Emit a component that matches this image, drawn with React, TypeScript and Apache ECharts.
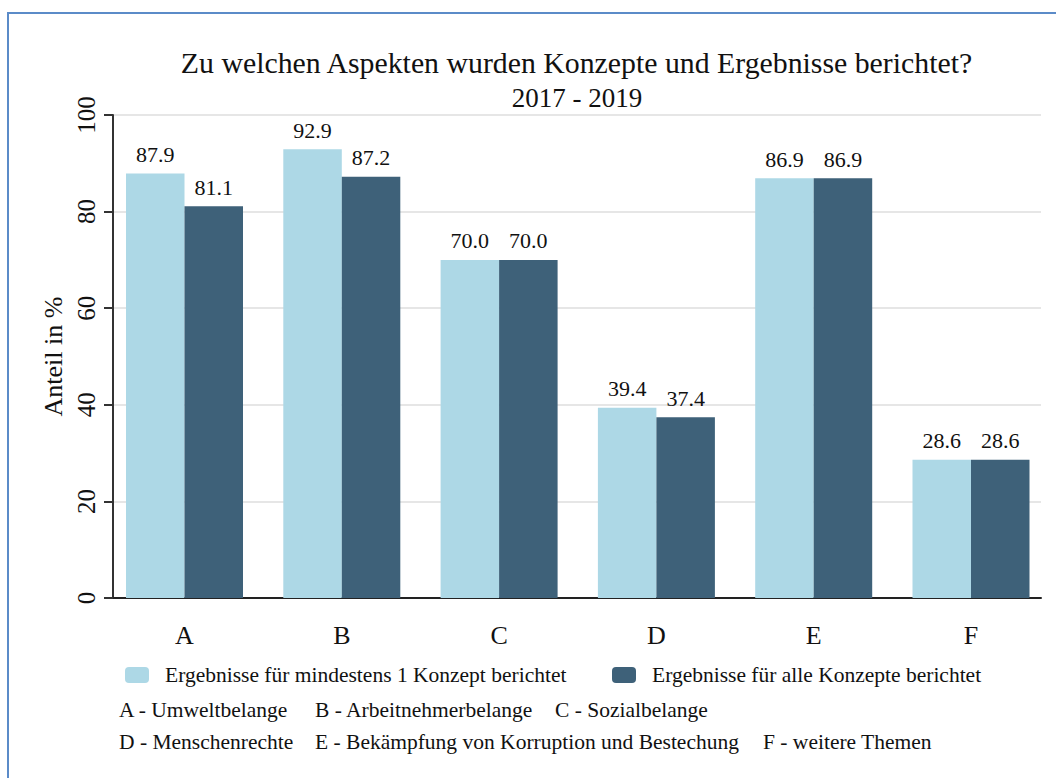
import React, { useEffect, useRef } from "react";
import * as echarts from "echarts";

const categories = ["A", "B", "C", "D", "E", "F"];
const seriesNames = [
  "Ergebnisse für mindestens 1 Konzept berichtet",
  "Ergebnisse für alle Konzepte berichtet",
];
const minOneConcept = [87.9, 92.9, 70.0, 39.4, 86.9, 28.6];
const allConcepts = [81.1, 87.2, 70.0, 37.4, 86.9, 28.6];
const yTicks = { min: 0, max: 100, interval: 20 };
const titleText = "Zu welchen Aspekten wurden Konzepte und Ergebnisse berichtet?";
const subtitleText = "2017 - 2019";
const yAxisTitle = "Anteil in %";
const notesLine1 = ["A - Umweltbelange", "B - Arbeitnehmerbelange", "C - Sozialbelange"];
const notesLine2 = [
  "D - Menschenrechte",
  "E - Bekämpfung von Korruption und Bestechung",
  "F - weitere Themen",
];

const FONT = "Liberation Serif";
const LIGHT = "#add8e6";
const DARK = "#3e6179";

export default function App() {
  const ref = useRef<HTMLDivElement>(null);
  useEffect(() => {
    if (!ref.current) return;
    const chart = echarts.init(ref.current, null, { renderer: "svg" });
    const plotTop = 115;
    const plotBottom = 778 - 598;
    const labelStyle = {
      show: true,
      position: "top",
      distance: 8,
      fontFamily: FONT,
      fontSize: 22,
      color: "#111",
      formatter: (p: any) => Number(p.value).toFixed(1),
    };
    const noteX = [119, 315, 555];
    const noteX2 = [119, 315, 763];
    const noteText = (t: string, x: number, y: number) => ({
      type: "text",
      x,
      y,
      style: {
        text: t,
        fontFamily: FONT,
        fontSize: 21.5,
        fill: "#111",
        textVerticalAlign: "middle",
      },
    });
    chart.setOption({
      animation: false,
      backgroundColor: "#fff",
      textStyle: { fontFamily: FONT },
      grid: [
        { left: 113, right: 15, top: plotTop, bottom: plotBottom },
        { left: 105.85, width: 943.8, top: plotTop, bottom: plotBottom },
      ],
      xAxis: [
        {
          gridIndex: 0,
          type: "value",
          min: 0,
          max: 1,
          axisLabel: { show: false },
          axisTick: { show: false },
          splitLine: { show: false },
          axisLine: { show: true, onZero: false, lineStyle: { color: "#222", width: 2 } },
        },
        {
          gridIndex: 1,
          type: "category",
          data: categories,
          axisLine: { show: false },
          axisTick: { show: false },
          axisLabel: { fontFamily: FONT, fontSize: 26, color: "#111", margin: 24 },
        },
      ],
      yAxis: [
        {
          gridIndex: 0,
          type: "value",
          min: yTicks.min,
          max: yTicks.max,
          interval: yTicks.interval,
          name: yAxisTitle,
          nameLocation: "middle",
          nameGap: 46,
          nameTextStyle: { fontFamily: FONT, fontSize: 26, color: "#111" },
          axisLine: { show: true, lineStyle: { color: "#333", width: 2 } },
          axisTick: { show: true, length: 9, lineStyle: { color: "#333", width: 2 } },
          axisLabel: {
            rotate: 90,
            fontFamily: FONT,
            fontSize: 25,
            color: "#111",
            margin: 14,
          },
          splitLine: { show: true, lineStyle: { color: "#e6e6e6", width: 2 } },
        },
        {
          gridIndex: 1,
          type: "value",
          min: yTicks.min,
          max: yTicks.max,
          interval: yTicks.interval,
          axisLine: { show: false },
          axisTick: { show: false },
          axisLabel: { show: false },
          splitLine: { show: false },
        },
      ],
      legend: [
        {
          data: [seriesNames[0]],
          left: 125,
          top: 664,
          itemWidth: 24,
          itemHeight: 16,
          padding: 0,
          textStyle: { fontFamily: FONT, fontSize: 21.5, color: "#111", padding: [0, 0, 0, 11] },
        },
        {
          data: [seriesNames[1]],
          left: 612,
          top: 664,
          itemWidth: 24,
          itemHeight: 16,
          padding: 0,
          textStyle: { fontFamily: FONT, fontSize: 21.5, color: "#111", padding: [0, 0, 0, 11] },
        },
      ],
      series: [
        {
          name: seriesNames[0],
          type: "bar",
          xAxisIndex: 1,
          yAxisIndex: 1,
          data: minOneConcept,
          barWidth: 58.5,
          barGap: "0%",
          itemStyle: { color: LIGHT },
          label: labelStyle,
        },
        {
          name: seriesNames[1],
          type: "bar",
          xAxisIndex: 1,
          yAxisIndex: 1,
          data: allConcepts,
          barWidth: 58.5,
          barGap: "0%",
          itemStyle: { color: DARK },
          label: labelStyle,
        },
      ],
      graphic: [
        {
          type: "rect",
          shape: { x: 8, y: 13, width: 1100, height: 800 },
          style: { fill: "none", stroke: "#5b8bc8", lineWidth: 2 },
          silent: true,
        },
        {
          type: "text",
          x: 576.5,
          y: 62,
          style: {
            text: titleText,
            fontFamily: FONT,
            fontSize: 29.8,
            fill: "#111",
            textAlign: "center",
            textVerticalAlign: "middle",
          },
        },
        {
          type: "text",
          x: 577,
          y: 98,
          style: {
            text: subtitleText,
            fontFamily: FONT,
            fontSize: 27,
            fill: "#111",
            textAlign: "center",
            textVerticalAlign: "middle",
          },
        },
        ...notesLine1.map((t, i) => noteText(t, noteX[i], 710)),
        ...notesLine2.map((t, i) => noteText(t, noteX2[i], 742)),
      ],
    });
    return () => chart.dispose();
  }, []);
  return (
    <div
      ref={ref}
      style={{ position: "absolute", left: 0, top: 0, width: 1056, height: 778 }}
    />
  );
}
